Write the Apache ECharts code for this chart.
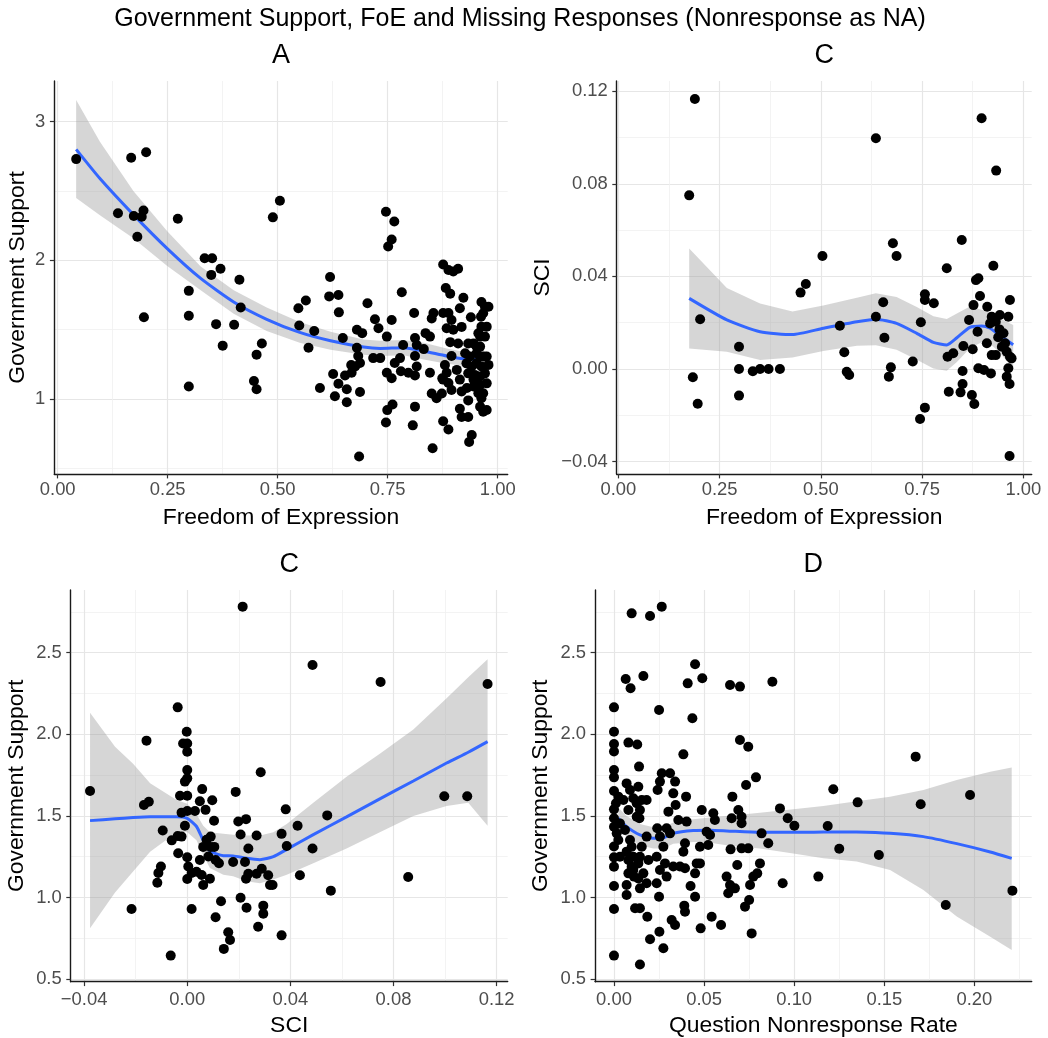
<!DOCTYPE html>
<html>
<head>
<meta charset="utf-8">
<script src="https://cdn.jsdelivr.net/npm/echarts@6/dist/echarts.min.js"></script>
<style>
  html, body { margin: 0; padding: 0; background: #ffffff; }
  #chart { width: 1048px; height: 1038px; }
</style>
</head>
<body>
<div id="chart"></div>
<script>
// ---------- data ----------
// Panel A: Freedom of Expression (x) vs Government Support (y)
const pointsA = [
  [0.042,2.73],[0.167,2.74],[0.201,2.78],[0.137,2.34],[0.173,2.32],[0.191,2.315],[0.195,2.36],[0.181,2.17],
  [0.196,1.59],[0.273,2.30],[0.334,2.015],[0.351,2.015],[0.370,1.94],[0.349,1.895],[0.413,1.86],[0.298,1.78],
  [0.416,1.66],[0.298,1.60],[0.360,1.54],[0.401,1.535],[0.375,1.385],[0.464,1.40],[0.452,1.32],[0.446,1.13],
  [0.452,1.07],[0.298,1.09],[0.489,2.31],[0.505,2.43],[0.547,1.655],[0.549,1.53],
  [0.746,2.35],[0.765,2.28],[0.759,2.15],[0.751,2.10],[0.619,1.88],[0.617,1.74],[0.638,1.75],[0.639,1.625],
  [0.564,1.71],[0.583,1.49],[0.570,1.37],[0.596,1.08],[0.626,1.18],[0.638,1.11],[0.630,1.02],[0.657,1.07],
  [0.657,0.977],[0.648,1.44],[0.653,1.17],[0.667,1.245],[0.680,1.50],[0.692,1.475],[0.680,1.37],[0.683,1.31],
  [0.676,1.235],[0.668,1.19],[0.687,1.26],[0.687,1.05],[0.685,0.585],[0.704,1.69],[0.721,1.575],[0.729,1.51],
  [0.717,1.295],[0.733,1.295],[0.748,1.45],[0.759,1.57],[0.748,1.19],[0.759,1.15],[0.749,0.92],[0.761,0.96],
  [0.746,0.83],[0.766,1.26],[0.778,1.295],[0.782,1.77],[0.785,1.39],[0.780,1.20],[0.797,1.19],[0.812,1.17],
  [0.810,1.62],[0.812,1.44],[0.816,1.39],[0.812,1.31],[0.816,1.235],[0.812,0.945],[0.807,0.81],[0.832,1.36],
  [0.836,1.475],[0.846,1.45],[0.854,1.62],[0.850,1.58],[0.846,1.19],[0.850,1.04],[0.852,0.645],[0.861,1.005],
  [0.874,1.15],[0.876,1.97],[0.888,1.93],[0.899,1.92],[0.910,1.94],[0.882,1.80],[0.892,1.76],[0.922,1.73],
  [0.876,1.62],[0.888,1.62],[0.895,1.57],[0.914,1.655],[0.884,1.51],[0.899,1.50],[0.918,1.52],[0.939,1.59],
  [0.892,1.41],[0.910,1.40],[0.895,1.31],[0.880,1.245],[0.884,1.19],[0.876,1.14],[0.888,1.115],[0.895,1.065],
  [0.907,1.21],[0.914,1.14],[0.918,1.055],[0.873,1.04],[0.876,0.84],[0.888,0.78],[0.914,0.93],[0.918,0.87],
  [0.933,0.87],[0.941,0.74],[0.935,0.69],[0.933,0.99],[0.930,1.08],[0.945,1.14],
  [0.933,1.40],[0.945,1.40],[0.926,1.33],[0.937,1.306],[0.952,1.33],[0.929,1.257],[0.941,1.234],[0.952,1.257],
  [0.963,1.234],[0.933,1.185],[0.948,1.174],[0.960,1.162],[0.971,1.185],[0.975,1.113],[0.960,1.102],[0.945,1.09],
  [0.956,1.041],[0.967,1.041],[0.963,1.005],[0.960,0.945],[0.967,0.909],[0.975,0.921],[0.952,1.378],[0.960,1.45],
  [0.971,1.45],[0.963,1.522],[0.975,1.522],[0.962,1.594],[0.971,1.666],[0.963,1.70],[0.979,1.666],[0.967,1.618],
  [0.956,1.474],[0.960,1.378],[0.967,1.306],[0.975,1.306],[0.979,1.246],[0.960,1.306]
];
// loess fit: [x, fit, lower, upper]
const curveA = [
  [0.042,2.80,2.45,3.156],[0.096,2.59,2.325,2.855],[0.172,2.33,2.16,2.50],[0.249,2.085,1.96,2.21],
  [0.325,1.87,1.785,1.955],[0.40,1.70,1.615,1.785],[0.475,1.575,1.49,1.66],[0.55,1.48,1.405,1.555],
  [0.62,1.42,1.355,1.485],[0.695,1.375,1.32,1.43],[0.733,1.365,1.31,1.42],[0.786,1.37,1.315,1.425],
  [0.832,1.345,1.285,1.405],[0.884,1.31,1.255,1.365],[0.922,1.29,1.24,1.34],[0.975,1.285,1.225,1.345]
];

// Panel C (top): Freedom of Expression (x) vs SCI (y)
const pointsC1 = [
  [0.189,0.1166],[0.175,0.075],[0.202,0.0215],[0.184,-0.0036],[0.196,-0.015],[0.298,0.0096],[0.298,0.0],
  [0.298,-0.0115],[0.332,-0.001],[0.350,0.0],[0.371,0.0],[0.399,0.0],[0.450,0.033],[0.463,0.0367],
  [0.504,0.0488],[0.547,0.0187],[0.558,0.0072],[0.564,-0.0012],[0.570,-0.0026],[0.636,0.0997],[0.636,0.0226],
  [0.654,0.0288],[0.657,0.0135],[0.678,0.0543],[0.687,0.0488],[0.673,0.0007],[0.668,-0.0033],[0.727,0.0032],
  [0.747,0.0202],[0.757,0.0323],[0.757,0.0298],[0.779,0.0284],[0.757,-0.0167],[0.745,-0.0216],[0.811,0.0435],
  [0.813,0.0053],[0.827,0.0068],[0.816,-0.0098],[0.848,0.0557],[0.852,0.0099],[0.850,-0.0009],[0.850,-0.0065],
  [0.845,-0.0101],[0.873,-0.0112],[0.879,-0.0151],[0.866,0.0212],[0.877,0.0276],[0.883,0.0384],[0.889,0.0392],
  [0.893,0.0315],[0.887,0.0161],[0.897,0.1083],[0.933,0.0857],[0.926,0.0446],[0.911,0.0269],[0.922,0.0226],
  [0.910,0.0111],[0.889,0.0003],[0.903,-0.0004],[0.920,-0.0019],[0.875,0.0085],[0.918,0.0197],[0.932,0.0204],
  [0.942,0.0233],[0.941,0.0171],[0.932,0.006],[0.922,0.006],[0.947,0.0096],[0.955,0.0111],[0.967,0.0298],
  [0.963,0.0226],[0.959,0.0075],[0.967,0.0053],[0.971,0.0046],[0.963,0.0003],[0.959,-0.0033],[0.966,-0.0065],
  [0.966,-0.0376],[0.938,0.0137],[0.951,0.0154]
];
const curveC1 = [
  [0.175,0.0305,0.0089,0.0521],[0.268,0.0212,0.0075,0.035],[0.35,0.0161,0.0039,0.0283],[0.43,0.0149,0.0050,0.0248],
  [0.506,0.0176,0.0078,0.0274],[0.589,0.0204,0.0100,0.0308],[0.636,0.0215,0.0103,0.0327],[0.687,0.0197,0.0083,0.0311],
  [0.737,0.0154,0.0040,0.0268],[0.778,0.0115,0.0002,0.0228],[0.811,0.0104,-0.0008,0.0216],[0.836,0.0135,0.0030,0.0240],
  [0.868,0.0180,0.0090,0.0270],[0.897,0.0186,0.0116,0.0256],[0.918,0.0176,0.0108,0.0244],[0.938,0.0150,0.0078,0.0222],
  [0.975,0.0105,0.0003,0.019]
];

// Panel C (bottom): SCI (x) vs Government Support (y)
const pointsC2 = [
  [-0.0377,1.653],[-0.0216,0.93],[-0.0158,1.961],[-0.0168,1.567],[-0.0149,1.587],[-0.0095,1.41],[-0.0102,1.19],
  [-0.0112,1.15],[-0.0116,1.09],[-0.0037,2.165],[-0.0064,0.644],[-0.006,1.35],[-0.0037,1.377],[-0.0022,1.373],
  [-0.0035,1.271],[-0.0028,1.623],[-0.0002,2.016],[-0.0016,1.944],[0.0,1.944],[0.0,1.893],[0.0,1.781],[0.0,1.73],
  [-0.0009,1.71],[0.0,1.623],[-0.0022,1.52],[0.0,1.53],[-0.0009,1.44],[0.0,1.247],[0.0004,1.19],[0.0,1.113],
  [0.0017,1.15],[0.0017,0.93],[0.003,1.53],[0.0049,1.59],[0.0058,1.664],[0.0071,1.537],[0.0049,1.23],[0.0036,1.158],
  [0.0056,1.138],[0.0062,1.077],[0.0062,1.31],[0.0075,1.354],[0.0091,1.373],[0.0091,1.31],[0.0082,1.251],
  [0.0097,1.596],[0.0104,1.47],[0.0105,1.31],[0.011,1.23],[0.0123,1.21],[0.0088,1.115],[0.0131,0.977],[0.011,0.879],
  [0.0159,0.787],[0.0166,0.74],[0.0142,0.685],[0.0188,1.647],[0.0198,1.466],[0.0228,1.48],[0.0207,1.386],
  [0.0178,1.218],[0.0224,1.218],[0.0228,1.115],[0.0237,1.146],[0.0207,0.998],[0.023,0.937],[0.0215,2.782],
  [0.0237,1.30],[0.0269,1.38],[0.0269,1.146],[0.0289,1.176],[0.0314,1.136],[0.0321,1.077],[0.0331,1.077],
  [0.0295,0.95],[0.0295,0.90],[0.0275,0.821],[0.0366,0.768],[0.0285,1.767],[0.0366,1.39],[0.0382,1.54],
  [0.0386,1.316],[0.0428,1.44],[0.0437,1.136],[0.0486,2.425],[0.0486,1.30],[0.0543,1.503],[0.0557,1.042],
  [0.075,2.32],[0.0857,1.126],[0.0997,1.62],[0.1086,1.62],[0.1165,2.308]
];
const curveC2 = [
  [-0.0377,1.471,0.811,2.132],[-0.028,1.482,1.03,1.924],[-0.021,1.490,1.16,1.82],[-0.0144,1.495,1.28,1.70],
  [-0.0041,1.495,1.40,1.597],[0.0,1.485,1.40,1.575],[0.0036,1.435,1.35,1.51],[0.0062,1.35,1.26,1.44],
  [0.0088,1.285,1.18,1.40],[0.014,1.256,1.14,1.39],[0.0178,1.255,1.13,1.385],[0.023,1.24,1.10,1.38],
  [0.0282,1.232,1.087,1.38],[0.0334,1.25,1.11,1.40],[0.0386,1.295,1.14,1.45],[0.0489,1.385,1.21,1.58],
  [0.0618,1.494,1.30,1.74],[0.0747,1.604,1.40,1.88],[0.0877,1.714,1.50,2.03],[0.1006,1.824,1.56,2.22],
  [0.109,1.89,1.58,2.35],[0.1165,1.955,1.44,2.46]
];

// Panel D: Question Nonresponse Rate (x) vs Government Support (y)
const pointsD = [
  [0,2.165],[0,2.016],[0,1.94],[0,1.894],[0,1.781],[0,1.736],[0,1.653],[0,1.54],[0,1.485],[0,1.434],[0,1.312],
  [0,1.246],[0,1.189],[0,1.07],[0,0.93],[0,0.644],
  [0.0024,1.618],[0.0011,1.577],[0.0015,1.393],[0.0024,1.352],[0.0018,1.454],[0.0033,1.25],
  [0.0065,2.339],[0.0092,2.282],[0.008,1.949],[0.0129,1.937],[0.007,1.699],[0.0089,1.659],[0.0107,1.608],
  [0.0126,1.577],[0.0052,1.597],[0.008,1.536],[0.0126,1.495],[0.0033,1.454],[0.0061,1.414],[0.0089,1.352],
  [0.007,1.281],[0.008,1.23],[0.0098,1.189],[0.008,1.148],[0.0111,1.128],[0.007,1.077],[0.007,1.015],
  [0.0117,0.934],[0.0144,0.934],[0.0107,1.168],[0.0098,1.311],[0.0107,1.25],
  [0.0098,2.741],[0.020,2.725],[0.0265,2.782],[0.0163,2.357],[0.025,2.149],[0.0139,1.802],[0.0135,1.679],
  [0.0154,1.597],[0.0181,1.597],[0.0144,1.536],[0.0141,1.485],[0.0181,1.373],[0.0154,1.311],[0.0144,1.25],
  [0.0135,1.209],[0.0163,1.148],[0.0135,1.117],[0.0144,1.056],[0.0181,1.087],[0.0191,1.23],[0.0185,0.882],
  [0.020,0.744],[0.0144,0.59],[0.0252,0.79],[0.0274,0.689],[0.025,1.005],[0.0242,1.659],[0.0255,1.71],
  [0.0265,1.761],[0.0311,1.761],[0.0339,1.71],[0.0329,1.638],[0.0342,1.567],[0.0302,1.526],[0.024,1.424],
  [0.0255,1.373],[0.0292,1.424],[0.0311,1.393],[0.0274,1.311],[0.0237,1.25],[0.0283,1.209],[0.0255,1.168],
  [0.0292,1.128],[0.0237,1.087],[0.032,0.862],[0.0339,0.832],[0.0357,1.475],[0.0385,1.877],[0.040,1.618],
  [0.0403,1.465],[0.0394,1.332],[0.0385,1.281],[0.0394,1.179],[0.0366,1.19],[0.0329,1.19],[0.0409,2.312],
  [0.0435,2.098],[0.045,2.429],[0.049,2.343],[0.0425,1.07],[0.045,1.005],[0.039,0.95],[0.0394,0.913],
  [0.045,1.148],[0.0459,1.209],[0.0477,1.209],[0.0477,1.311],[0.0487,1.536],[0.0481,0.811],[0.0542,0.882],
  [0.0594,0.832],[0.0523,1.322],[0.0514,1.403],[0.0551,1.516],[0.056,1.475],[0.0533,1.383],[0.0634,1.026],
  [0.0625,1.128],[0.0644,1.077],[0.0647,1.295],[0.0653,1.485],[0.0657,1.618],[0.0644,2.302],[0.0699,2.292],
  [0.0699,1.965],[0.0745,1.924],[0.069,1.536],[0.0708,1.495],[0.0708,1.455],[0.0684,1.199],[0.0671,1.056],
  [0.0708,1.301],[0.0745,1.301],[0.0733,1.689],[0.0788,1.736],[0.0727,0.944],[0.075,0.985],[0.0764,0.78],
  [0.0755,1.077],[0.0773,1.128],[0.081,1.209],[0.0795,1.148],[0.0819,1.393],[0.0856,1.332],[0.0879,2.322],
  [0.0921,1.546],[0.0964,1.485],[0.0936,1.087],[0.1001,1.44],
  [0.1134,1.128],[0.1186,1.438],[0.1217,1.663],[0.125,1.299],[0.1352,1.583],[0.147,1.26],[0.1674,1.863],
  [0.1702,1.571],[0.1841,0.954],[0.1976,1.628],[0.2211,1.042]
];
const curveD = [
  [0.0024,1.485,1.42,1.55],[0.007,1.434,1.37,1.50],[0.0144,1.383,1.32,1.45],[0.0218,1.363,1.30,1.43],
  [0.0274,1.365,1.30,1.43],[0.0329,1.393,1.33,1.46],[0.044,1.41,1.34,1.48],[0.0533,1.412,1.335,1.49],
  [0.0625,1.408,1.32,1.50],[0.081,1.399,1.30,1.52],[0.0995,1.399,1.27,1.54],[0.1162,1.402,1.24,1.56],
  [0.1347,1.401,1.22,1.59],[0.1532,1.393,1.169,1.618],[0.1717,1.373,1.046,1.659],[0.1902,1.33,0.883,1.72],
  [0.2088,1.279,0.76,1.771],[0.2207,1.24,0.678,1.796]
];

// tick positions
const foeTicks = [0, 0.25, 0.5, 0.75, 1.0];
const foeMinor = [0.125, 0.375, 0.625, 0.875];
const supportTicksA = [1, 2, 3];
const supportMinorA = [0.5, 1.5, 2.5];
const sciTicks = [-0.04, 0, 0.04, 0.08, 0.12];
const sciMinor = [-0.02, 0.02, 0.06, 0.10];
const supportTicks = [0.5, 1.0, 1.5, 2.0, 2.5];
const supportMinor = [0.75, 1.25, 1.75, 2.25, 2.75];
const nonresponseTicks = [0, 0.05, 0.10, 0.15, 0.20];
const nonresponseMinor = [0.025, 0.075, 0.125, 0.175, 0.225];

const mainTitle = 'Government Support, FoE and Missing Responses (Nonresponse as NA)';

// ---------- styling helpers ----------
const FONT = '"Liberation Sans", Arial, Helvetica, sans-serif';
const fmt = digits => v => (v < -1e-9 ? '\u2212' : '') + Math.abs(v).toFixed(digits);

const panels = [
  { title: 'A', grid: { left: 54.3, top: 81, width: 453.4, height: 393 },
    xRange: [-0.0077, 1.0227], yRange: [0.4592, 3.2934],
    xMajor: foeTicks, xMinor: foeMinor, yMajor: supportTicksA, yMinor: supportMinorA,
    xFmt: fmt(2), yFmt: fmt(0), xName: 'Freedom of Expression', yName: 'Government Support',
    xLabelMargin: 7, xNameGap: 32, yNameGap: 25, points: pointsA, curve: curveA },
  { title: 'C', grid: { left: 616.7, top: 81, width: 415, height: 393 },
    xRange: [-0.004, 1.0207], yRange: [-0.04536, 0.1244],
    xMajor: foeTicks, xMinor: foeMinor, yMajor: sciTicks, yMinor: sciMinor,
    xFmt: fmt(2), yFmt: fmt(2), xName: 'Freedom of Expression', yName: 'SCI',
    xLabelMargin: 7, xNameGap: 32, yNameGap: 63, points: pointsC1, curve: curveC1 },
  { title: 'C', grid: { left: 70.7, top: 590, width: 437, height: 391.7 },
    xRange: [-0.0452, 0.1243], yRange: [0.4841, 2.884],
    xMajor: sciTicks, xMinor: sciMinor, yMajor: supportTicks, yMinor: supportMinor,
    xFmt: fmt(2), yFmt: fmt(1), xName: 'SCI', yName: 'Government Support',
    xLabelMargin: 9, xNameGap: 32, yNameGap: 42.3, points: pointsC2, curve: curveC2 },
  { title: 'D', grid: { left: 595, top: 590, width: 436.7, height: 391.7 },
    xRange: [-0.01054, 0.2318], yRange: [0.4841, 2.884],
    xMajor: nonresponseTicks, xMinor: nonresponseMinor, yMajor: supportTicks, yMinor: supportMinor,
    xFmt: fmt(2), yFmt: fmt(1), xName: 'Question Nonresponse Rate', yName: 'Government Support',
    xLabelMargin: 9, xNameGap: 32, yNameGap: 42.6, points: pointsD, curve: curveD }
];

const labelStyle = { color: '#4d4d4d', fontSize: 18.4, fontFamily: FONT };
const nameStyle = { color: '#000000', fontSize: 22.9, fontFamily: FONT };

function majorAxis(p, i, dim) {
  const isX = dim === 'x';
  return {
    type: 'value', gridIndex: i, position: isX ? 'bottom' : 'left',
    min: isX ? p.xRange[0] : p.yRange[0], max: isX ? p.xRange[1] : p.yRange[1],
    axisLine: { show: true, onZero: false, lineStyle: { color: '#1a1a1a', width: 1.4 } },
    axisTick: { show: true, length: 4.4, customValues: isX ? p.xMajor : p.yMajor,
                lineStyle: { color: '#333333', width: 1.2 } },
    axisLabel: Object.assign({ customValues: isX ? p.xMajor : p.yMajor, formatter: isX ? p.xFmt : p.yFmt,
                margin: isX ? p.xLabelMargin : 9 }, labelStyle),
    splitLine: { show: true, lineStyle: { color: '#e6e6e6', width: 1.2 } },
    name: isX ? p.xName : p.yName, nameLocation: 'middle', nameGap: isX ? p.xNameGap : p.yNameGap,
    nameTextStyle: nameStyle
  };
}
function minorAxis(p, i, dim) {
  const isX = dim === 'x';
  return {
    type: 'value', gridIndex: i, position: isX ? 'top' : 'right',
    min: isX ? p.xRange[0] : p.yRange[0], max: isX ? p.xRange[1] : p.yRange[1],
    axisLine: { show: false }, axisLabel: { show: false },
    axisTick: { show: false, customValues: isX ? p.xMinor : p.yMinor },
    splitLine: { show: true, lineStyle: { color: '#f0f0f0', width: 0.8 } }
  };
}

const xAxes = [], yAxes = [], series = [], titles = [];
titles.push({ text: mainTitle, left: 520, top: 7, textAlign: 'center', padding: 0,
  textStyle: { fontSize: 25, fontWeight: 'normal', color: '#000', fontFamily: FONT } });

panels.forEach((p, i) => {
  xAxes.push(minorAxis(p, i, 'x'), majorAxis(p, i, 'x'));
  yAxes.push(minorAxis(p, i, 'y'), majorAxis(p, i, 'y'));
  const xi = 2 * i + 1, yi = 2 * i + 1;
  const cx = p.grid.left + p.grid.width / 2;
  titles.push({ text: p.title, left: cx, top: p.grid.top - 38.5, textAlign: 'center', padding: 0,
    textStyle: { fontSize: 27, fontWeight: 'normal', color: '#000', fontFamily: FONT } });

  // confidence band of the smoother
  const band = p.curve;
  series.push({
    type: 'custom', xAxisIndex: xi, yAxisIndex: yi, silent: true, z: 1,
    data: [[band[0][0], band[0][1]]],
    renderItem: (params, api) => {
      const upper = band.map(d => api.coord([d[0], d[3]]));
      const lower = band.map(d => api.coord([d[0], d[2]])).reverse();
      return { type: 'polygon', shape: { points: upper.concat(lower) },
               style: { fill: 'rgba(153,153,153,0.4)' } };
    }
  });
  // smoother line
  series.push({
    type: 'line', xAxisIndex: xi, yAxisIndex: yi, silent: true, z: 2,
    data: band.map(d => [d[0], d[1]]), showSymbol: false, smooth: 0.2,
    lineStyle: { color: '#3366FF', width: 3 }
  });
  // observations
  series.push({
    type: 'scatter', xAxisIndex: xi, yAxisIndex: yi, silent: true, z: 3,
    data: p.points, symbol: 'circle', symbolSize: 10,
    itemStyle: { color: '#000000', opacity: 1 }
  });
});

const chart = echarts.init(document.getElementById('chart'), null, { renderer: 'canvas' });
chart.setOption({
  backgroundColor: '#ffffff',
  animation: false,
  title: titles,
  grid: panels.map(p => Object.assign({ containLabel: false }, p.grid)),
  xAxis: xAxes,
  yAxis: yAxes,
  series: series
});
</script>
</body>
</html>
